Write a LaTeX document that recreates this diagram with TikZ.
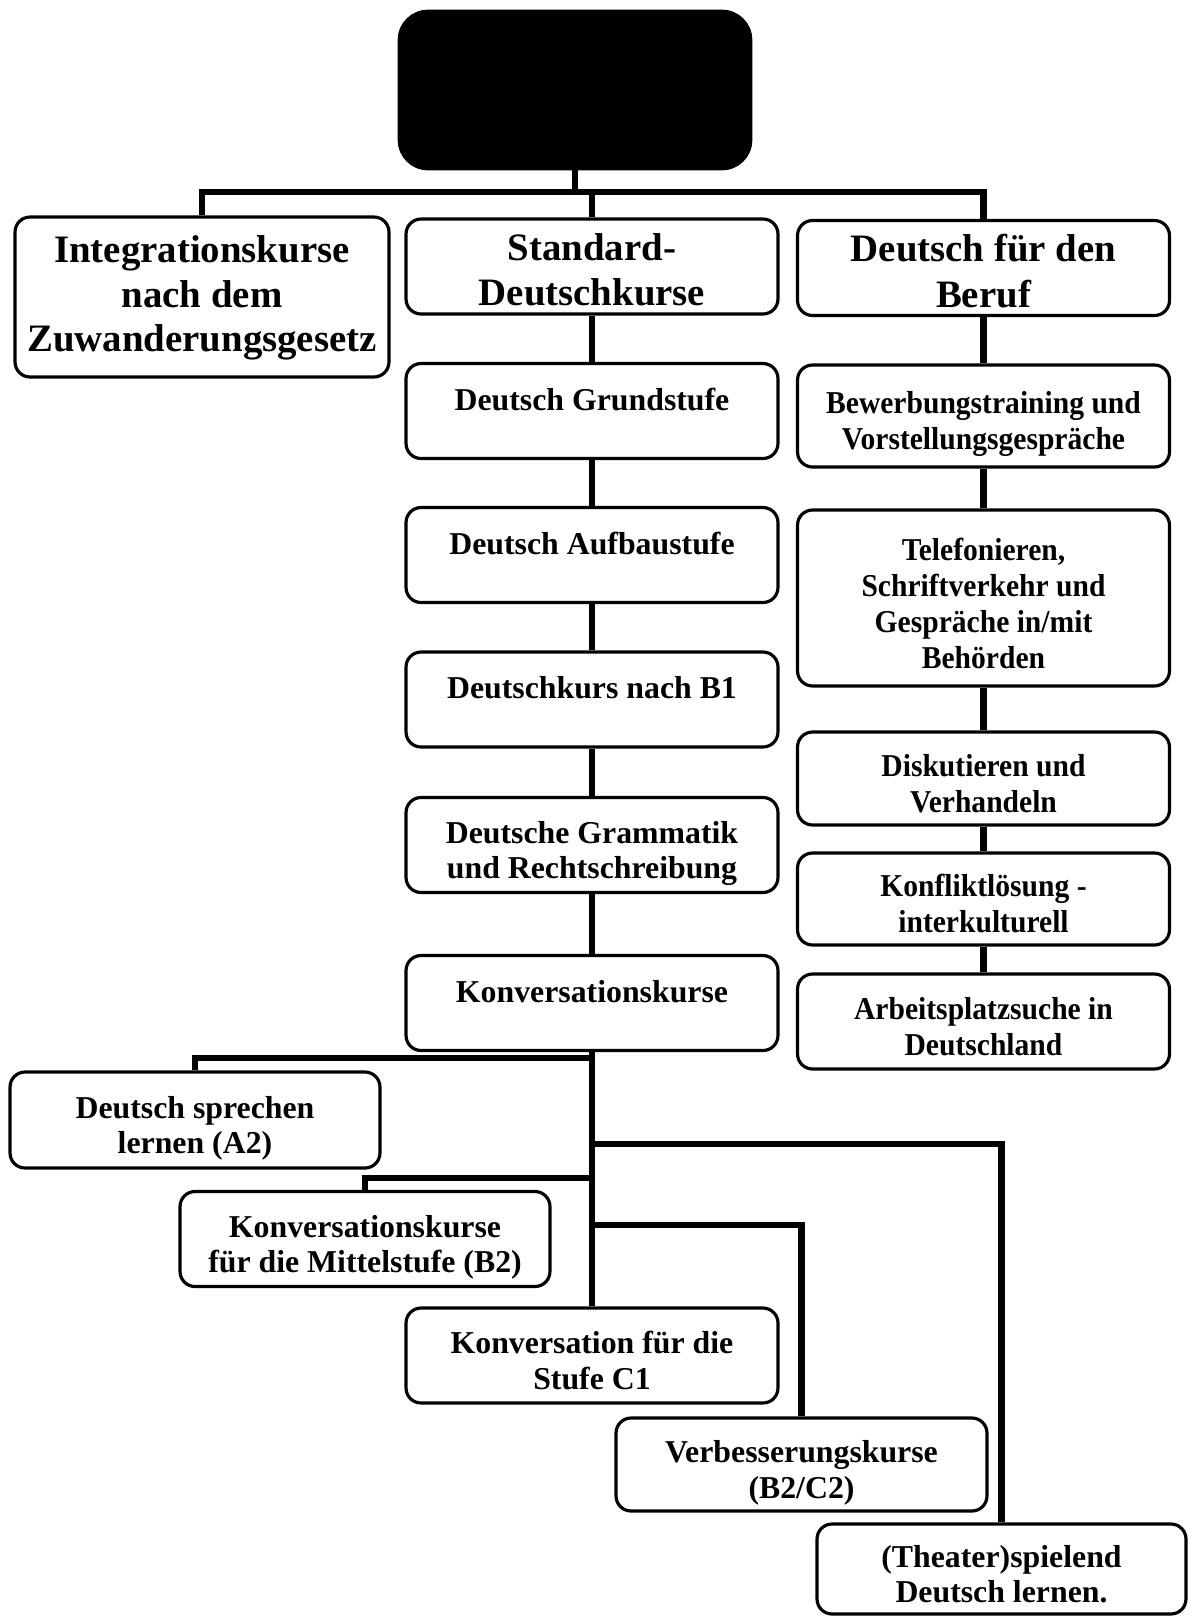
\documentclass[tikz,border=0pt]{standalone}
\usepackage{fontspec}
\setmainfont{Liberation Serif}
\newfontfamily\narrowfont{Liberation Serif}[FakeStretch=0.93]
\usepackage{tikz}
\usetikzlibrary{positioning}

\begin{document}
\begin{tikzpicture}[x=0.02cm,y=-0.02cm]
\tikzstyle{every node}+=[inner sep=0pt]
\tikzstyle{box}=[draw=black,line width=1.8pt,rounded corners=0.3cm,align=center,minimum width=7.44cm,minimum height=1.9cm]
\tikzstyle{big}=[font=\fontsize{22.1}{26}\selectfont\bfseries]
\tikzstyle{bigtight}=[font=\fontsize{22.1}{25.2}\selectfont\bfseries]
\tikzstyle{small}=[font=\fontsize{18.1}{20.1}\selectfont\bfseries]
\tikzstyle{narrow}=[font=\fontsize{18.1}{20.4}\selectfont\narrowfont\bfseries]
\tikzstyle{lift}=[text depth=0.48cm]
\tikzstyle{two}=[text height=1.34cm,text depth=0pt]
\tikzstyle{bigtwo}=[text height=1.58cm,text depth=0pt]
\tikzstyle{bigthree}=[text height=2.18cm,text depth=0pt]
\tikzstyle{four}=[text height=2.82cm,text depth=0pt]
\tikzstyle{conn}=[draw=black,line width=3.8pt]
\useasboundingbox (0,0) rectangle (1196,1616);
% top box
\node[fill=black,draw=black,rounded corners=0.6cm,minimum width=7.08cm,minimum height=3.2cm] (top) at (575,90) {};
% first level
\node[box,bigtight,bigthree,minimum width=7.48cm,minimum height=3.2cm] (integ) at (202,297) {Integrationskurse\\nach dem\\Zuwanderungsgesetz};
\node[box,big,bigtwo] (std) at (592,266.5) {Standard-\\Deutschkurse};
\node[box,big,bigtwo] (beruf) at (983.5,268) {Deutsch für den\\Beruf};
% middle column
\node[box,small,lift] (grund) at (592,411) {Deutsch Grundstufe};
\node[box,small,lift] (aufbau) at (592,555) {Deutsch Aufbaustufe};
\node[box,small,lift] (bone) at (592,699.5) {Deutschkurs nach B1};
\node[box,small,two] (gramm) at (592,845) {Deutsche Grammatik\\und Rechtschreibung};
\node[box,small,lift] (konv) at (592,1003) {Konversationskurse};
% right column
\node[box,narrow,two,minimum height=2.04cm] (bewerb) at (983.5,416) {Bewerbungstraining und\\Vorstellungsgespräche};
\node[box,narrow,four,minimum height=3.52cm] (telef) at (983.5,598) {Telefonieren,\\Schriftverkehr und\\Gespräche in/mit\\Behörden};
\node[box,narrow,two,minimum height=1.86cm] (disk) at (983.5,778.5) {Diskutieren und\\Verhandeln};
\node[box,narrow,two,minimum height=1.84cm] (konfl) at (983.5,899) {Konfliktlösung -\\interkulturell};
\node[box,narrow,two] (arbeit) at (983.5,1021.5) {Arbeitsplatzsuche in\\Deutschland};
% conversation courses
\node[box,small,two,minimum width=7.4cm,minimum height=1.92cm] (atwo) at (195,1120) {Deutsch sprechen\\lernen (A2)};
\node[box,small,two,minimum width=7.4cm] (btwo) at (365,1239) {Konversationskurse\\für die Mittelstufe (B2)};
\node[box,small,two] (cone) at (592,1355.5) {Konversation für die\\Stufe C1};
\node[box,small,two,minimum width=7.42cm,minimum height=1.86cm] (verb) at (801.5,1464.5) {Verbesserungskurse\\(B2/C2)};
\node[box,small,two,minimum width=7.38cm,minimum height=1.8cm] (theat) at (1001.5,1569) {(Theater)spielend\\Deutsch lernen.};
% connectors
\coordinate (bus) at (592,192);
\draw[conn] (top.south) -- (top.south |- bus);
\draw[conn] (integ.north) |- (bus) -| (beruf.north);
\draw[conn] (bus) -- (std.north);
\foreach \a/\b in {std/grund,grund/aufbau,aufbau/bone,bone/gramm,gramm/konv,beruf/bewerb,bewerb/telef,telef/disk,disk/konfl,konfl/arbeit}
  \draw[conn] (\a.south) -- (\b.north);
\draw[conn] (konv.south) -- (cone.north);
\coordinate (ja) at (592,1058);
\coordinate (jt) at (592,1144);
\coordinate (jb) at (592,1178);
\coordinate (jv) at (592,1225);
\draw[conn] (ja) -| (atwo.north);
\draw[conn] (jt) -| (theat.north);
\draw[conn] (jb) -| (btwo.north);
\draw[conn] (jv) -| (verb.north);
\end{tikzpicture}
\end{document}
